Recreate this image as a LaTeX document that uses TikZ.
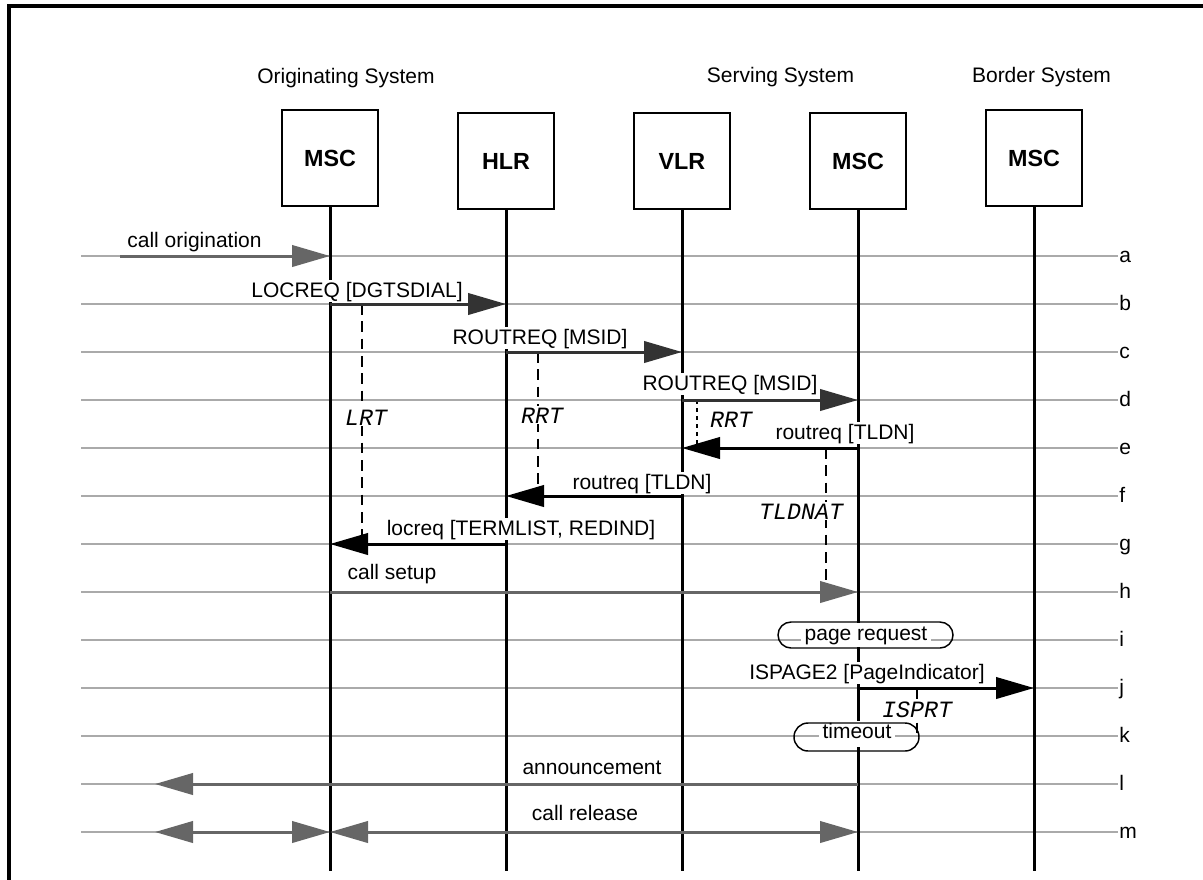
\documentclass[tikz,border=0pt]{standalone}
\usepackage{fontspec}
\setmainfont{Liberation Sans}
\setmonofont{Liberation Mono}
\usetikzlibrary{arrows.meta}
\definecolor{arrgray}{RGB}{102,102,102}
\definecolor{arrdark}{RGB}{51,51,51}
\definecolor{rowgray}{RGB}{170,170,170}
\begin{document}
\begin{tikzpicture}[x=0.75pt,y=-0.75pt,
  every node/.style={font=\fontsize{15.75}{18}\selectfont},
  box/.style={draw, line width=2pt, minimum width=72pt, minimum height=72pt, inner sep=0pt, font=\fontsize{17.5}{20}\selectfont\bfseries},
  life/.style={line width=2.25pt},
  rowline/.style={draw=rowgray, line width=1.6pt},
  msggray/.style={draw=arrgray, line width=2.25pt, -{Triangle[length=28.5pt,width=16pt]}},
  msggrayboth/.style={draw=arrgray, line width=2.25pt, {Triangle[length=28.5pt,width=16pt]}-{Triangle[length=28.5pt,width=16pt]}},
  msgdark/.style={draw=arrdark, line width=2.25pt, -{Triangle[length=28.5pt,width=16pt]}},
  msgblack/.style={draw=black, line width=2.25pt, -{Triangle[length=28.5pt,width=16pt]}},
  lbl/.style={fill=white, inner xsep=1pt, inner ysep=1pt, text height=12pt, text depth=2.5pt, anchor=base},
  timer/.style={line width=1.6pt, dash pattern=on 8pt off 5pt},
  shorttimer/.style={line width=1.6pt, dash pattern=on 3pt off 3pt},
  tlbl/.style={fill=white, inner sep=1pt, anchor=base, font=\fontsize{17.5}{20}\selectfont\ttfamily\itshape},
  stad/.style={draw, line width=1.1pt, inner sep=0pt},
  stadtxt/.style={fill=white, inner xsep=3pt, inner ysep=1.75pt, text height=11pt},
  head/.style={anchor=base}
]
\useasboundingbox (0,0) rectangle (1203,879);

% frame
\coordinate (fbl) at (9,885);
\coordinate (ftl) at (9,6);
\coordinate (ftr) at (1210,6);
\draw[line width=2.5pt] (fbl) -- (ftl) -- (ftr);

% row lines and letters
\foreach \y/\l in {256/a,304/b,352/c,400/d,448/e,496/f,544/g,592/h,640/i,688/j,736/k,784/l,832/m}{
  \coordinate (r\l) at (0,\y);
  \coordinate (rs\l) at (81,\y);
  \coordinate (re\l) at (1118,\y);
  \draw[rowline] (rs\l) -- (re\l);
  \node[anchor=base west, inner sep=0pt] (lt\l) at (1119,\y+6) {\l};
}

% headers
\node[head] (hOrig) at (346,83) {Originating System};
\node[head] (hServ) at (780.5,82) {Serving System};
\node[head] (hBord) at (1041.5,82) {Border System};

% entities
\node[box] (m1) at (330,158) {MSC};
\node[box] (hlr) at (506,161) {HLR};
\node[box] (vlr) at (682,161) {VLR};
\node[box] (m2) at (858,161) {MSC};
\node[box] (m3) at (1034,158) {MSC};

\coordinate (bot) at (0,871);
\foreach \n in {m1,hlr,vlr,m2,m3} \draw[life] (\n.south) -- (\n.south |- bot);

% timers
\coordinate (lrtA) at (362,304); \coordinate (lrtB) at (362,544);
\draw[timer] (lrtA) -- (lrtB);
\coordinate (rrtA) at (538,352); \coordinate (rrtB) at (538,496);
\draw[timer] (rrtA) -- (rrtB);
\coordinate (rrtC) at (697,400); \coordinate (rrtD) at (697,448);
\draw[shorttimer] (rrtC) -- (rrtD);
\coordinate (tldA) at (826,448); \coordinate (tldB) at (826,592);
\draw[timer] (tldA) -- (tldB);
\coordinate (ispA) at (917,688); \coordinate (ispB) at (917,735);
\draw[timer] (ispA) -- (ispB);

\node[tlbl] (lLRT) at (366,425) {LRT};
\node[tlbl] (lRRT1) at (542,423) {RRT};
\node[tlbl] (lRRT2) at (731,427) {RRT};
\node[tlbl] (lTLD) at (801,519) {TLDNAT};
\node[tlbl] (lISP) at (917,717) {ISPRT};

% message labels
\node[lbl] (la) at (194.5,247.5) {call origination};
\node[lbl] (lb) at (357,297.5) {LOCREQ [DGTSDIAL]};
\node[lbl] (lc) at (540,344.5) {ROUTREQ [MSID]};
\node[lbl] (ld) at (730,390.5) {ROUTREQ [MSID]};
\node[lbl] (le) at (845,439.5) {routreq [TLDN]};
\node[lbl] (lf) at (642,489.5) {routreq [TLDN]};
\node[lbl] (lg) at (521,535.5) {locreq [TERMLIST, REDIND]};
\node[lbl] (lh) at (392,579.5) {call setup};
\node[lbl] (lj) at (867,679.5) {ISPAGE2 [PageIndicator]};
\node[lbl] (ll) at (592,774.5) {announcement};
\node[lbl] (lm) at (585,820.5) {call release};

% messages
\coordinate (orig) at (120,256);
\draw[msggray] (orig) -- (m1 |- ra);
\draw[msgdark] (m1 |- rb) -- (hlr |- rb);
\draw[msgdark] (hlr |- rc) -- (vlr |- rc);
\draw[msgdark] (vlr |- rd) -- (m2 |- rd);
\draw[msgblack] (m2 |- re) -- (vlr |- re);
\draw[msgblack] (vlr |- rf) -- (hlr |- rf);
\draw[msgblack] (hlr |- rg) -- (m1 |- rg);
\draw[msggray] (m1 |- rh) -- (m2 |- rh);
\draw[msgblack] (m2 |- rj) -- (m3 |- rj);
\coordinate (annend) at (155,784);
\draw[msggray] (m2 |- rl) -- (annend);
\coordinate (relend) at (155,832);
\draw[msggrayboth] (relend) -- (m1 |- rm);
\draw[msggrayboth] (m1 |- rm) -- (m2 |- rm);

% local actions
\node[stadtxt, text depth=3.5pt] (prt) at (866,635) {page request};
\node[stad, minimum width=131.25pt, minimum height=19.5pt, rounded corners=9.75pt] (prbox) at (865.5,635) {};
\node[stadtxt, text depth=5pt] (tot) at (857,734) {timeout};
\node[stad, minimum width=93.75pt, minimum height=21pt, rounded corners=10.5pt] (tobox) at (856.5,737) {};
\end{tikzpicture}
\end{document}
